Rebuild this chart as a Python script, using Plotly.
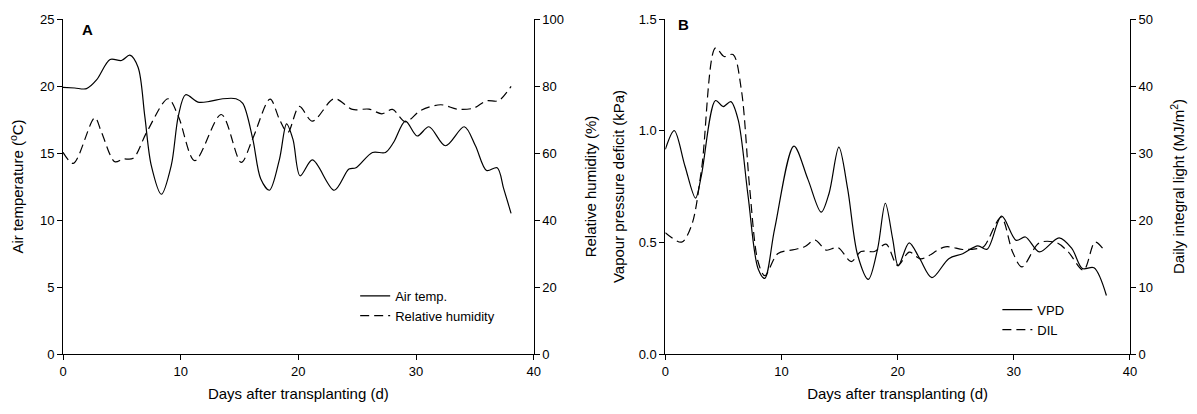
import plotly.graph_objects as go

# ---------------- Data ----------------
days_temp = [0, 1.0, 2.0, 2.85, 4.0, 4.97, 5.68, 6.38, 6.95, 7.5, 8.36, 9.2, 9.8, 10.42,
             11.47, 12.46, 13.58, 14.7, 15.28, 16.13, 16.8, 17.54, 18.4, 19.0, 19.55,
             20.15, 21.2, 23.05, 24.3, 24.9, 26.3, 27.4, 28.1, 29.1, 30.1, 31.1, 32.5,
             34.1, 35.05, 36.0, 36.9, 37.45, 38.08]
air_temp = [19.9, 19.85, 19.8, 20.45, 21.98, 21.9, 22.3, 21.4, 17.75, 14.07, 11.92, 14.07,
            17.75, 19.35, 18.8, 18.85, 19.05, 19.05, 18.7, 16.03, 13.08, 12.22, 14.55, 17.18,
            16.0, 13.3, 14.48, 12.22, 13.8, 13.9, 15.04, 15.04, 15.8, 17.38, 16.27, 16.96,
            15.54, 16.96, 15.54, 13.69, 13.9, 12.34, 10.5]

days_rh = [0, 0.88, 2.7, 3.28, 4.4, 5.1, 5.96, 7.1, 8.93, 9.8, 11.2, 13.45, 15.14, 16.1,
           17.6, 18.4, 19.1, 20.08, 21.2, 23.05, 24.6, 26.0, 27.1, 28.0, 29.1, 30.4, 32.1,
           33.5, 34.9, 36.0, 37.0, 38.08]
rel_hum = [60.2, 56.9, 70.5, 66.1, 57.4, 58.2, 58.4, 66.1, 76.2, 71.0, 57.7, 71.5, 57.2,
           64.1, 76.1, 70.0, 66.1, 73.9, 69.5, 76.2, 73.0, 73.1, 71.7, 73.0, 69.3, 72.7,
           74.4, 73.1, 73.4, 75.6, 75.6, 79.9]

days_vpd = [0, 0.77, 1.69, 2.6, 3.1, 4.32, 4.98, 5.64, 6.27, 7.12, 7.98, 8.56, 9.41, 11.07,
            12.27, 13.42, 14.1, 14.94, 15.7, 16.56, 17.48, 18.28, 18.94, 19.57, 20.05,
            20.99, 21.9, 22.95, 24.4, 25.6, 26.9, 27.7, 28.95, 30.2, 31.0, 32.2, 33.9,
            35.0, 35.9, 36.9, 37.97]
vpd = [0.916, 1.00, 0.842, 0.698, 0.798, 1.135, 1.108, 1.13, 1.049, 0.709, 0.383, 0.339,
       0.56, 0.931, 0.783, 0.635, 0.72, 0.926, 0.738, 0.442, 0.334, 0.472, 0.675, 0.516,
       0.395, 0.498, 0.427, 0.342, 0.427, 0.449, 0.484, 0.469, 0.617, 0.509, 0.524, 0.457,
       0.52, 0.472, 0.383, 0.386, 0.262]

days_dil = [0, 1.4, 2.26, 3.12, 4.32, 5.06, 5.83, 6.55, 7.27, 7.98, 8.56, 9.7, 11.13, 11.99,
            12.9, 13.85, 14.85, 16.0, 16.85, 18.0, 19.0, 20.0, 21.0, 22.0, 24.1, 25.6, 26.7,
            27.4, 28.9, 29.9, 30.7, 32.2, 33.7, 34.7, 36.0, 37.0, 37.9]
dil = [18.1, 16.7, 19.2, 27.6, 45.7, 44.4, 44.7, 39.4, 24.6, 13.8, 11.7, 15.0, 15.6, 16.0,
       17.0, 15.5, 15.9, 13.8, 15.3, 15.3, 16.4, 13.2, 15.2, 14.2, 16.0, 15.6, 15.7, 16.0,
       20.4, 15.2, 13.0, 16.6, 16.6, 15.2, 12.5, 16.7, 15.2]

x_ticks = [0, 10, 20, 30, 40]

# ---------------- Figure ----------------
FONT = "Arial, Liberation Sans, Helvetica, sans-serif"
DASH = "9px,5px"
LW = 1.2

fig = go.Figure()
fig.add_trace(go.Scatter(x=days_temp, y=air_temp, name="Air temp.", mode="lines",
                         line=dict(color="black", width=LW, shape="spline", smoothing=0.9),
                         xaxis="x", yaxis="y", legend="legend"))
fig.add_trace(go.Scatter(x=days_rh, y=rel_hum, name="Relative humidity", mode="lines",
                         line=dict(color="black", width=LW, dash=DASH, shape="spline", smoothing=0.9),
                         xaxis="x", yaxis="y2", legend="legend"))
fig.add_trace(go.Scatter(x=days_vpd, y=vpd, name="VPD", mode="lines",
                         line=dict(color="black", width=LW, shape="spline", smoothing=0.9),
                         xaxis="x2", yaxis="y3", legend="legend2"))
fig.add_trace(go.Scatter(x=days_dil, y=dil, name="DIL", mode="lines",
                         line=dict(color="black", width=LW, dash=DASH, shape="spline", smoothing=0.9),
                         xaxis="x2", yaxis="y4", legend="legend2"))

W, H = 1197, 414
ML, MR, MT, MB = 63, 64, 15, 60
PW = W - ML - MR

def px(v):
    return (v - ML) / PW

ax_common = dict(showline=True, linecolor="black", linewidth=1, ticks="outside",
                 ticklen=5, tickcolor="black", tickwidth=1, showgrid=False, zeroline=False,
                 tickfont=dict(size=13, color="black", family=FONT),
                 title_font=dict(size=15, color="black", family=FONT))

fig.update_layout(
    width=W, height=H,
    margin=dict(l=ML, r=MR, t=MT, b=MB),
    paper_bgcolor="white", plot_bgcolor="white",
    font=dict(family=FONT, color="black"),
    xaxis=dict(domain=[0, px(535)], range=[0, 40], tickvals=x_ticks, anchor="y",
               title=dict(text="Days after transplanting (d)", standoff=10), **ax_common),
    yaxis=dict(domain=[0, 1], range=[0, 25], dtick=5, anchor="x",
               title=dict(text="Air temperature (<sup>o</sup>C)", standoff=12), **ax_common),
    yaxis2=dict(range=[0, 100], dtick=20, overlaying="y", side="right", anchor="x",
                title=dict(text="Relative humidity (%)", standoff=22), **ax_common),
    xaxis2=dict(domain=[px(667), 1], range=[0, 40], tickvals=x_ticks, anchor="y3",
                title=dict(text="Days after transplanting (d)", standoff=10), **ax_common),
    yaxis3=dict(domain=[0, 1], range=[0, 1.5], dtick=0.5, tickformat=".1f", anchor="x2",
                title=dict(text="Vapour pressure deficit (kPa)", standoff=10), **ax_common),
    yaxis4=dict(range=[0, 50], dtick=10, overlaying="y3", side="right", anchor="x2",
                title=dict(text="Daily integral light (MJ/m<sup>2</sup>)", standoff=21), **ax_common),
    legend=dict(x=px(356), y=(354 - 280) / 339, xanchor="left", yanchor="top",
                bgcolor="rgba(0,0,0,0)", borderwidth=0,
                font=dict(size=13, color="black", family=FONT), tracegroupgap=0),
    legend2=dict(x=px(1000), y=(354 - 294) / 339, xanchor="left", yanchor="top",
                 bgcolor="rgba(0,0,0,0)", borderwidth=0,
                 font=dict(size=13, color="black", family=FONT), tracegroupgap=0),
    annotations=[
        dict(text="<b>A</b>", xref="x domain", yref="y domain", x=0.036, y=0.97,
             xanchor="left", yanchor="middle",
             showarrow=False, font=dict(size=15, color="black", family=FONT)),
        dict(text="<b>B</b>", xref="x2 domain", yref="y3 domain", x=0.024, y=0.985,
             xanchor="left", yanchor="middle",
             showarrow=False, font=dict(size=15, color="black", family=FONT)),
    ],
)

fig.write_html("out.html")
